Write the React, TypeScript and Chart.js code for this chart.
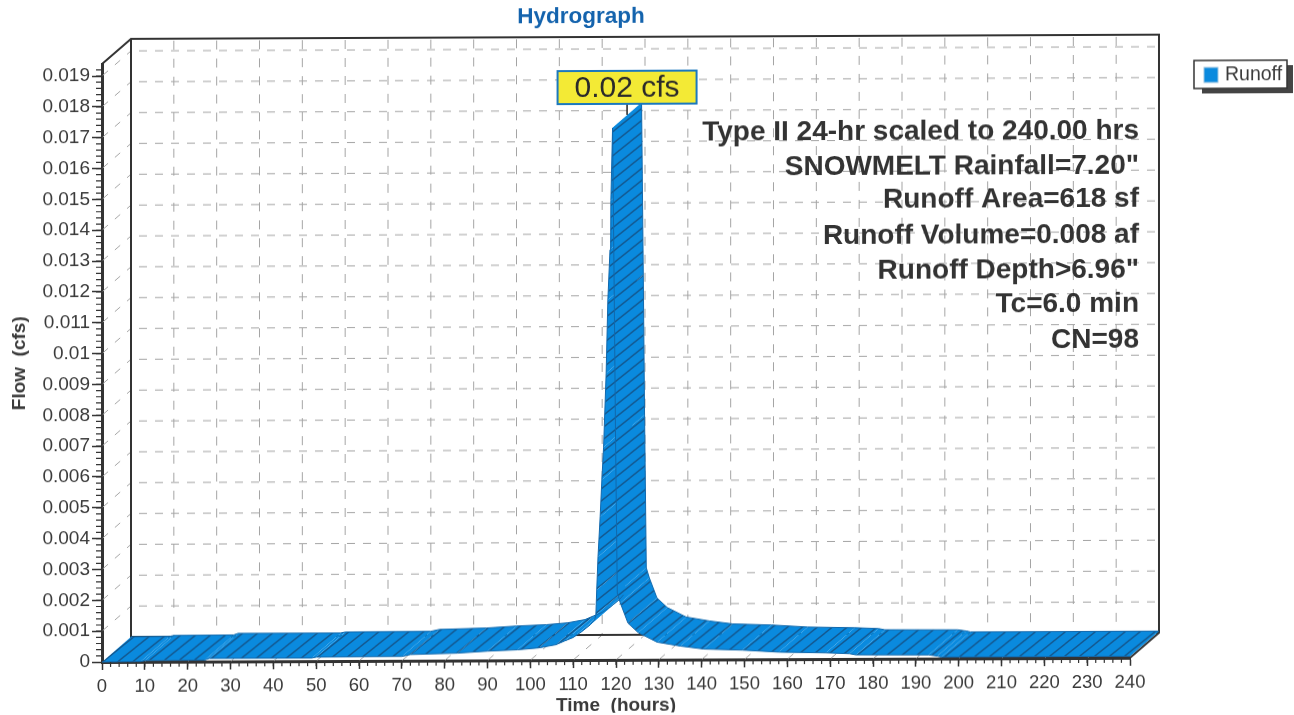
import React, { useEffect, useRef } from "react";
import { Chart, registerables } from "chart.js";

Chart.register(...registerables);

const TITLE = "Hydrograph";
const SERIES_NAME = "Runoff";
const PEAK_LABEL = "0.02 cfs";
const X_TITLE = "Time  (hours)";
const Y_TITLE = "Flow  (cfs)";
const NOTES = [
  "Type II 24-hr scaled to 240.00 hrs",
  'SNOWMELT Rainfall=7.20"',
  "Runoff Area=618 sf",
  "Runoff Volume=0.008 af",
  'Runoff Depth>6.96"',
  "Tc=6.0 min",
  "CN=98",
];
const NOTE_Y = [135, 170, 203, 239, 274, 308, 344];

const hours = [
  0, 9, 10, 24, 25, 49, 50, 70, 72, 83, 90, 97, 102, 106, 108, 110, 112, 114, 115,
  115.3, 115.5, 115.8, 116.3, 116.7, 117.1, 117.7, 118.1, 118.6, 118.8, 119.2,
  119.6, 119.9, 120.3, 121, 122.8, 125.2, 129.6, 135, 140.5, 149.5, 158, 169, 174.5,
  176, 193, 195, 196, 240,
];
const flows = [
  0, 0.00001, 0.00004, 0.00005, 0.0001, 0.0001, 0.00013, 0.00014, 0.0002, 0.00024, 0.0003,
  0.00034, 0.0004, 0.0005, 0.00062, 0.00073, 0.00092, 0.00114, 0.0013,
  0.00146, 0.00227, 0.00334, 0.00464, 0.00584, 0.0069, 0.0093, 0.01167, 0.0133, 0.0149, 0.01725,
  0.01167, 0.00713, 0.00217, 0.00185, 0.00119, 0.00088, 0.00057, 0.00044, 0.00034, 0.0003,
  0.00023, 0.0002, 0.00017, 0.00013, 0.00012, 0.00008, 0.00005, 0.00005,
];
const PEAK_INDEX = 29;

const X_MAX = 240;
const Y_MAX = 0.01939;
const X_STEP = 10;
const Y_STEP = 0.001;
const X_MINOR = 2;
const Y_MINOR = 0.0002;

const DEPTH_X = 29;
const DEPTH_Y = -25;
const SHEAR = 0.0041;

const BLUE = "#0a8ade";
const HATCH = "#14588f";
const EDGE = "#1068ad";
const INK = "#333333";
const GRID = "#a4a4a4";
const TEXT = "#3a3a3a";

function hatchPattern(ctx: CanvasRenderingContext2D) {
  const w = 15;
  const h = 12;
  const c = document.createElement("canvas");
  c.width = w;
  c.height = h;
  const p = c.getContext("2d")!;
  p.fillStyle = BLUE;
  p.fillRect(0, 0, w, h);
  p.strokeStyle = HATCH;
  p.lineWidth = 1.4;
  p.beginPath();
  for (const [ox, oy] of [[0, 0], [-w, 0], [w, 0], [0, -h], [0, h]]) {
    p.moveTo(ox, h + oy);
    p.lineTo(w + ox, oy);
  }
  p.stroke();
  return ctx.createPattern(c, "repeat")!;
}

const depthPlugin = {
  id: "depth",
  beforeDatasetsDraw(chart: any) {
    const { ctx, scales } = chart;
    const x = scales.x;
    const y = scales.y;
    const x0 = x.getPixelForValue(0);
    const x1 = x.getPixelForValue(X_MAX);
    const yb = y.getPixelForValue(0);
    const yt = y.getPixelForValue(Y_MAX);
    ctx.save();

    // dashed back wall, side wall and floor grid
    ctx.strokeStyle = GRID;
    ctx.lineWidth = 1;
    ctx.setLineDash([8, 8]);
    for (let v = Y_STEP; v < Y_MAX; v += Y_STEP) {
      const py = y.getPixelForValue(v);
      ctx.beginPath();
      ctx.moveTo(x0 + DEPTH_X + 8, py + DEPTH_Y);
      ctx.lineTo(x1 + DEPTH_X - 4, py + DEPTH_Y);
      ctx.stroke();
    }
    ctx.setLineDash([9, 9]);
    for (let t = X_STEP; t <= X_MAX; t += X_STEP) {
      const px = x.getPixelForValue(t);
      ctx.beginPath();
      ctx.moveTo(px + DEPTH_X, yt + DEPTH_Y + 2);
      ctx.lineTo(px + DEPTH_X, yb + DEPTH_Y);
      ctx.stroke();
    }
    ctx.setLineDash([7, 9]);
    ctx.lineDashOffset = -17;
    for (let v = Y_STEP; v < Y_MAX; v += Y_STEP) {
      const py = y.getPixelForValue(v);
      ctx.beginPath();
      ctx.moveTo(x0, py);
      ctx.lineTo(x0 + DEPTH_X, py + DEPTH_Y);
      ctx.stroke();
    }
    for (let t = X_STEP; t < X_MAX; t += X_STEP) {
      const px = x.getPixelForValue(t);
      ctx.beginPath();
      ctx.moveTo(px, yb);
      ctx.lineTo(px + DEPTH_X, yb + DEPTH_Y);
      ctx.stroke();
    }
    ctx.setLineDash([]);
    ctx.lineDashOffset = 0;

    // frame
    ctx.strokeStyle = INK;
    ctx.lineWidth = 2;
    ctx.beginPath();
    ctx.moveTo(x0, yt);
    ctx.lineTo(x0 + DEPTH_X, yt + DEPTH_Y);
    ctx.lineTo(x1 + DEPTH_X, yt + DEPTH_Y);
    ctx.lineTo(x1 + DEPTH_X, yb + DEPTH_Y);
    ctx.lineTo(x1, yb);
    ctx.moveTo(x0 + DEPTH_X, yt + DEPTH_Y);
    ctx.lineTo(x0 + DEPTH_X, yb + DEPTH_Y);
    ctx.lineTo(x1 + DEPTH_X, yb + DEPTH_Y);
    ctx.stroke();

    // hatched ribbon between the front curve and the same curve at depth
    ctx.fillStyle = hatchPattern(ctx);
    const px = hours.map((t) => x.getPixelForValue(t));
    const py = flows.map((v) => y.getPixelForValue(v));
    for (let i = 0; i < hours.length - 1; i++) {
      ctx.beginPath();
      ctx.moveTo(px[i], py[i]);
      ctx.lineTo(px[i + 1], py[i + 1]);
      ctx.lineTo(px[i + 1] + DEPTH_X, py[i + 1] + DEPTH_Y);
      ctx.lineTo(px[i] + DEPTH_X, py[i] + DEPTH_Y);
      ctx.closePath();
      ctx.fill();
    }
    // far edge of the falling limb
    ctx.strokeStyle = EDGE;
    ctx.lineWidth = 1;
    ctx.beginPath();
    for (let i = PEAK_INDEX; i < hours.length; i++) {
      const ax = px[i] + DEPTH_X;
      const ay = py[i] + DEPTH_Y;
      if (i === PEAK_INDEX) ctx.moveTo(ax, ay);
      else ctx.lineTo(ax, ay);
    }
    ctx.stroke();
    ctx.beginPath();
    ctx.moveTo(px[0] + DEPTH_X, py[0] + DEPTH_Y);
    for (let i = 1; i <= 18; i++) ctx.lineTo(px[i] + DEPTH_X, py[i] + DEPTH_Y);
    ctx.stroke();
    ctx.restore();
  },
  afterDraw(chart: any) {
    const { ctx, scales } = chart;
    const x = scales.x;
    const y = scales.y;
    const x0 = x.getPixelForValue(0);
    const yb = y.getPixelForValue(0);
    ctx.save();

    // minor ticks
    ctx.strokeStyle = INK;
    ctx.lineWidth = 1.2;
    ctx.beginPath();
    for (let t = X_MINOR; t < X_MAX; t += X_MINOR) {
      const px = x.getPixelForValue(t);
      ctx.moveTo(px, yb);
      ctx.lineTo(px, yb + 5);
    }
    for (let v = Y_MINOR; v < Y_MAX; v += Y_MINOR) {
      const py = y.getPixelForValue(v);
      ctx.moveTo(x0, py);
      ctx.lineTo(x0 - 6, py);
    }
    ctx.stroke();

    // peak callout
    const peakX = x.getPixelForValue(hours[PEAK_INDEX]) + DEPTH_X / 2;
    const peakY = y.getPixelForValue(flows[PEAK_INDEX]);
    const boxW = 139;
    const boxH = 33;
    const boxX = peakX - boxW / 2;
    const boxY = peakY - 57;
    ctx.strokeStyle = "#222222";
    ctx.lineWidth = 1.5;
    ctx.beginPath();
    ctx.moveTo(peakX, boxY + boxH);
    ctx.lineTo(peakX, boxY + boxH + 11);
    ctx.stroke();
    ctx.fillStyle = "#f3ea35";
    ctx.fillRect(boxX, boxY, boxW, boxH);
    ctx.strokeStyle = "#1b78bd";
    ctx.lineWidth = 2;
    ctx.strokeRect(boxX, boxY, boxW, boxH);
    ctx.fillStyle = "#2a2a2a";
    ctx.font = '30px "Liberation Sans"';
    ctx.textAlign = "center";
    ctx.textBaseline = "middle";
    ctx.fillText(PEAK_LABEL, peakX, boxY + boxH / 2 + 1);

    // run notes
    ctx.fillStyle = "#333333";
    ctx.font = 'bold 28px "Liberation Sans"';
    ctx.textAlign = "right";
    NOTES.forEach((line, i) => ctx.fillText(line, 1139, NOTE_Y[i]));

    // legend
    const lx = 1194;
    const ly = 65;
    ctx.fillStyle = "#444444";
    ctx.fillRect(lx + 8, ly + 5, 91, 28);
    ctx.fillStyle = "#ffffff";
    ctx.fillRect(lx, ly, 93, 28);
    ctx.strokeStyle = "#333333";
    ctx.lineWidth = 1.5;
    ctx.strokeRect(lx, ly, 93, 28);
    ctx.fillStyle = BLUE;
    ctx.fillRect(lx + 10, ly + 7, 14, 15);
    ctx.strokeStyle = "#9cc4e0";
    ctx.lineWidth = 1;
    ctx.strokeRect(lx + 10, ly + 7, 14, 15);
    ctx.fillStyle = TEXT;
    ctx.font = '19.5px "Liberation Sans"';
    ctx.textAlign = "left";
    ctx.fillText(SERIES_NAME, lx + 31, ly + 15);
    ctx.restore();
  },
};

export default function App() {
  const ref = useRef<HTMLCanvasElement | null>(null);
  useEffect(() => {
    const chart = new Chart(ref.current!, {
      type: "line",
      data: {
        datasets: [
          {
            label: SERIES_NAME,
            data: hours.map((t, i) => ({ x: t, y: flows[i] })),
            borderColor: EDGE,
            borderWidth: 1,
            pointRadius: 0,
            tension: 0,
            fill: false,
            clip: false,
          },
        ],
      },
      plugins: [depthPlugin],
      options: {
        animation: false,
        responsive: false,
        events: [],
        layout: { padding: { left: 32, right: 164, top: 0, bottom: 0 } },
        plugins: {
          legend: { display: false },
          tooltip: { enabled: false },
          title: {
            display: true,
            text: TITLE,
            color: "#1463ad",
            font: { family: '"Liberation Sans"', size: 22.5, weight: "bold" },
            padding: { top: 5, bottom: 32 },
          },
        },
        scales: {
          x: {
            type: "linear",
            min: 0,
            max: X_MAX,
            afterFit: (s: any) => {
              s.height = 53;
            },
            ticks: {
              stepSize: X_STEP,
              maxRotation: 0,
              autoSkip: false,
              padding: 6,
              color: TEXT,
              font: { family: '"Liberation Sans"', size: 18.5 },
            },
            grid: { drawOnChartArea: false, color: INK, tickLength: 8, tickWidth: 1.5 },
            border: { color: INK, width: 3 },
            title: {
              display: true,
              text: X_TITLE,
              color: TEXT,
              font: { family: '"Liberation Sans"', size: 19, weight: "bold" },
              padding: { top: 0, bottom: -4 },
            },
          },
          y: {
            type: "linear",
            min: 0,
            max: Y_MAX,
            afterFit: (s: any) => {
              s.width = 70;
            },
            ticks: {
              stepSize: Y_STEP,
              includeBounds: false,
              autoSkip: false,
              padding: 2,
              color: TEXT,
              font: { family: '"Liberation Sans"', size: 19 },
              callback: (v: any) => String(Math.round(Number(v) * 1000) / 1000),
            },
            grid: { drawOnChartArea: false, color: INK, tickLength: 10, tickWidth: 1.5 },
            border: { color: INK, width: 3 },
            title: {
              display: true,
              text: Y_TITLE,
              color: TEXT,
              font: { family: '"Liberation Sans"', size: 19, weight: "bold" },
              padding: { top: -24, bottom: 0 },
            },
          },
        },
      },
    } as any);
    return () => chart.destroy();
  }, []);

  const angle = (Math.atan(SHEAR) * 180) / Math.PI;
  return (
    <div style={{ position: "fixed", left: 0, top: 0, width: 1294, height: 715, overflow: "hidden", background: "#ffffff" }}>
      <canvas
        ref={ref}
        width={1294}
        height={715}
        style={{
          display: "block",
          width: 1294,
          height: 715,
          transformOrigin: "102px 0px",
          transform: `skewY(${-angle}deg)`,
        }}
      />
    </div>
  );
}
